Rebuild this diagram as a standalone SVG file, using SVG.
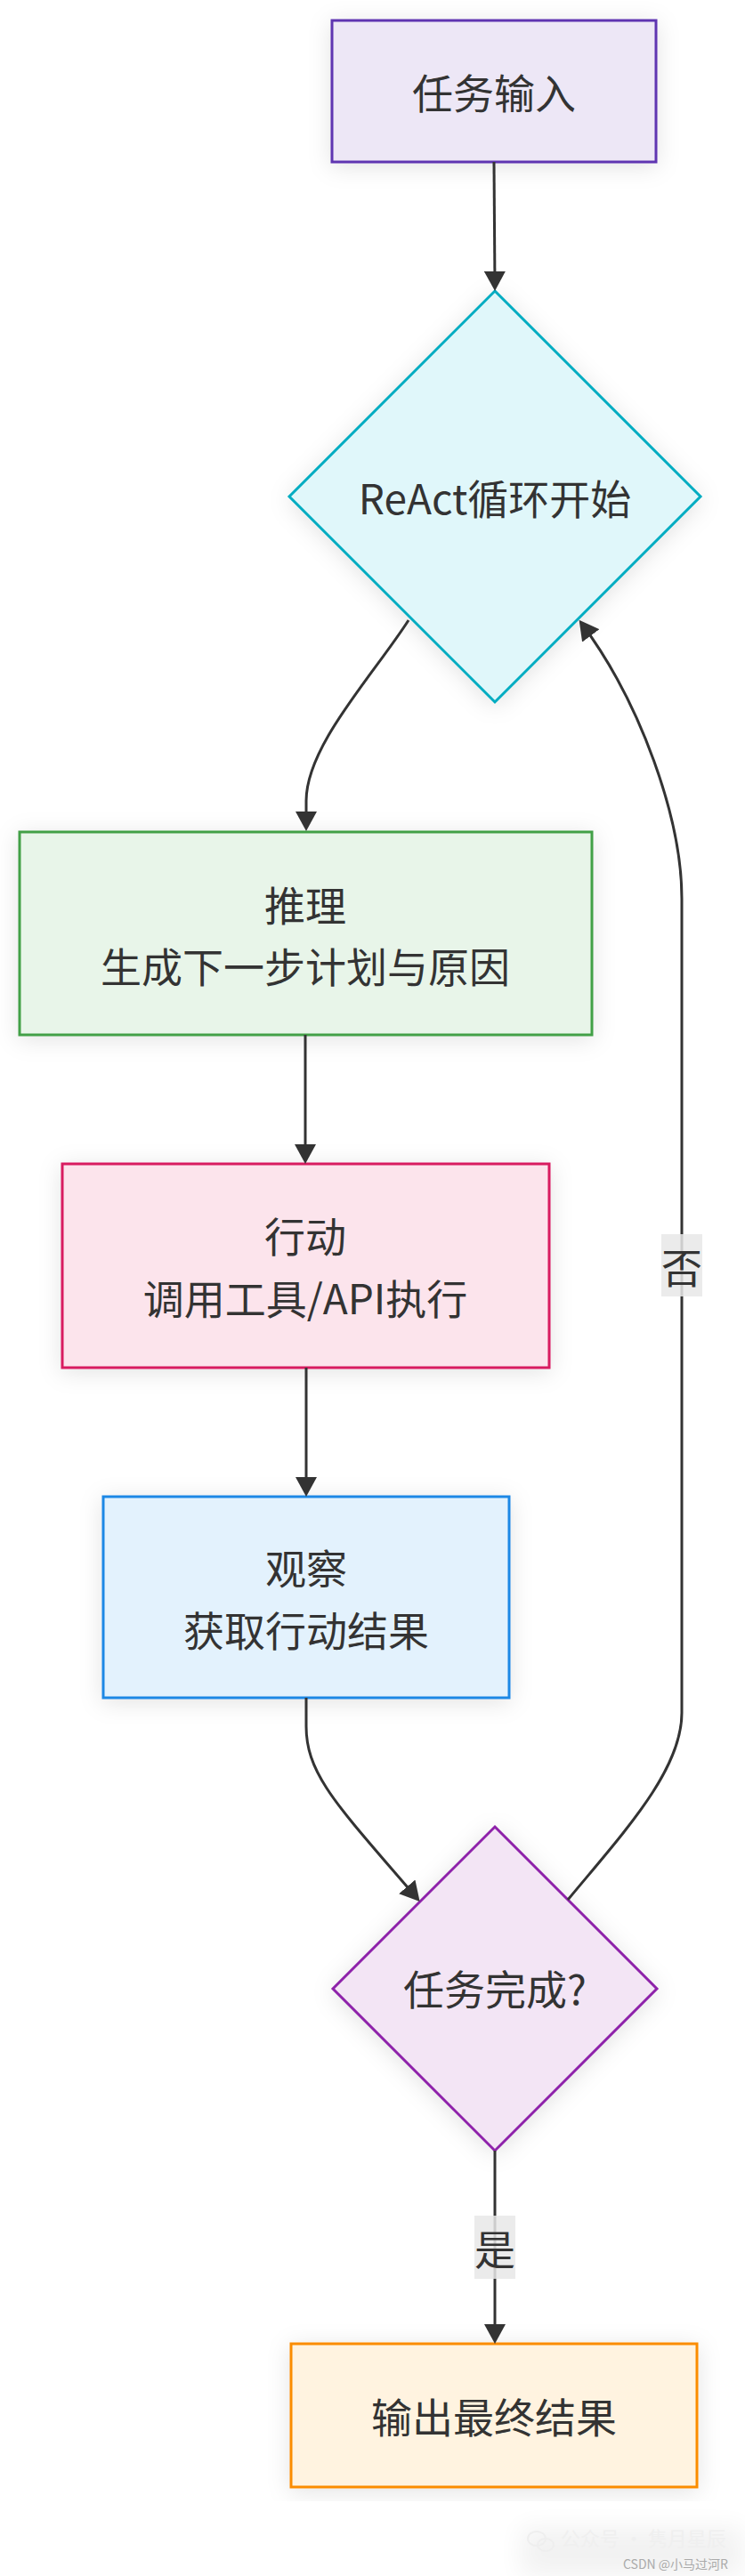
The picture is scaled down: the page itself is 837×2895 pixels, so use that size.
<svg xmlns="http://www.w3.org/2000/svg" width="837" height="2895" viewBox="0 0 837 2895">
<style>
.lbl{font-family:"Noto Sans CJK SC","Noto Sans",sans-serif;font-size:46px;fill:#333333;text-anchor:middle;dominant-baseline:central}
.edge{fill:none;stroke:#333333;stroke-width:3}
.n{stroke-width:3}
.elbg{fill:#e8e8e8;opacity:0.85}
.wm{font-family:"Noto Sans CJK SC","Noto Sans",sans-serif;dominant-baseline:central}
</style>
<defs>
<filter id="sh" x="-30%" y="-30%" width="160%" height="160%">
<feDropShadow dx="0" dy="4" stdDeviation="13" flood-color="#000000" flood-opacity="0.11"/>
</filter>
<filter id="blur" x="-50%" y="-50%" width="200%" height="200%"><feGaussianBlur stdDeviation="14"/></filter>
<clipPath id="area"><rect x="0" y="0" width="813" height="2811"/></clipPath>
<marker id="arr" markerUnits="userSpaceOnUse" markerWidth="24" markerHeight="24" refX="18" refY="12" orient="auto">
<path d="M0,0 L22,12 L0,24 z" fill="#333333"/>
</marker>
</defs>
<rect x="0" y="0" width="837" height="2895" fill="#ffffff"/>
<rect x="585" y="2840" width="250" height="55" fill="#000000" opacity="0.05" filter="url(#blur)"/>
<g clip-path="url(#area)">
<g id="n1"><rect class="n" x="373" y="23" width="364" height="159" fill="#ede7f6" stroke="#5e35b1" filter="url(#sh)"/><text class="lbl" x="555" y="102">任务输入</text></g>
<g id="d1"><polygon class="n" points="556,327 787,558 556,789 325,558" fill="#e0f7fa" stroke="#00acc1" filter="url(#sh)"/><text class="lbl" x="556" y="558">ReAct循环开始</text></g>
<g id="n2"><rect class="n" x="22" y="935" width="643" height="228" fill="#e8f5e9" stroke="#43a047" filter="url(#sh)"/><text class="lbl" x="343" y="1015">推理</text><text class="lbl" x="343" y="1084">生成下一步计划与原因</text></g>
<g id="n3"><rect class="n" x="70" y="1308" width="547" height="229" fill="#fce4ec" stroke="#d81b60" filter="url(#sh)"/><text class="lbl" x="343" y="1387">行动</text><text class="lbl" x="343" y="1457">调用工具/API执行</text></g>
<g id="n4"><rect class="n" x="116" y="1682" width="456" height="226" fill="#e3f2fd" stroke="#1e88e5" filter="url(#sh)"/><text class="lbl" x="344" y="1760">观察</text><text class="lbl" x="344" y="1830">获取行动结果</text></g>
<g id="d2"><polygon class="n" points="556,2053 738,2235 556,2417 374,2235" fill="#f3e5f5" stroke="#8e24aa" filter="url(#sh)"/><text class="lbl" x="556" y="2233">任务完成?</text></g>
<g id="n5"><rect class="n" x="327" y="2634" width="456" height="161" fill="#fff3e0" stroke="#fb8c00" filter="url(#sh)"/><text class="lbl" x="555" y="2714">输出最终结果</text></g>
</g>
<g id="edges">
<path class="edge" d="M555,182 L556,323" marker-end="url(#arr)"/>
<path class="edge" d="M459,697 C420,758 344,838 344,900 L344,930" marker-end="url(#arr)"/>
<path class="edge" d="M343,1163 L343,1304" marker-end="url(#arr)"/>
<path class="edge" d="M344,1537 L344,1678" marker-end="url(#arr)"/>
<path class="edge" d="M344,1908 L344,1940 C344,1995 380,2030 469,2134" marker-end="url(#arr)"/>
<path class="edge" d="M638,2135 C700,2060 766,1990 766,1925 L766,1010 C766,920 720,790 653,700" marker-end="url(#arr)"/>
<path class="edge" d="M556,2417 L556,2630" marker-end="url(#arr)"/>
<g id="label-no"><rect class="elbg" x="743" y="1387" width="46" height="70"/><text class="lbl" x="766" y="1422">否</text></g>
<g id="label-yes"><rect class="elbg" x="533" y="2490" width="46" height="71"/><text class="lbl" x="556" y="2525">是</text></g>
</g>
<g id="watermark">
<ellipse cx="603" cy="2853" rx="10" ry="8" fill="none" stroke="#eeeeee" stroke-width="2"/>
<ellipse cx="613" cy="2860" rx="9" ry="7" fill="none" stroke="#eeeeee" stroke-width="2"/>
<text class="wm" x="630" y="2851" font-size="22" fill="#efefef">公众号 · 隽月星辰</text>
<text class="wm" x="700" y="2881" font-size="14" fill="#aaaaaa">CSDN @小马过河R</text>
</g>
</svg>
